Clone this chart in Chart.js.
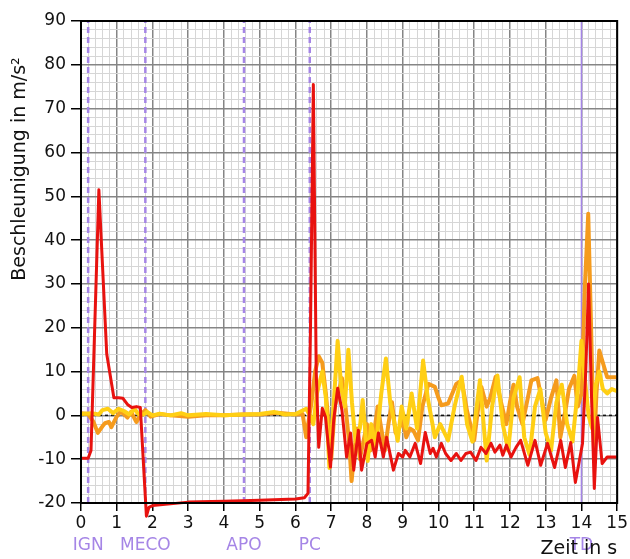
<!DOCTYPE html>
<html lang="de">
<head>
<meta charset="UTF-8">
<title>Beschleunigung</title>
<script src="https://cdn.jsdelivr.net/npm/chart.js"></script>
<style>
  html, body { margin: 0; padding: 0; background: #fff; overflow: hidden; }
  #wrap { width: 630px; height: 559px; }
</style>
</head>
<body>
<div id="wrap"><canvas id="chart" width="630" height="559"></canvas></div>
<script>
// time in s, acceleration in m/s²
const redPts = [
  [0,-9.8],[0.2,-9.8],[0.28,-8],[0.5,51.5],[0.72,14],[0.92,4],[1.05,4],[1.17,3.9],[1.3,2.5],
  [1.42,1.8],[1.55,2],[1.66,1.8],[1.74,-10],[1.83,-23],[1.9,-21],[2.0,-20.6],[2.5,-20.2],[3,-19.8],
  [4,-19.6],[5,-19.4],[6,-19.1],[6.25,-18.8],[6.35,-17.8],[6.42,20],[6.5,75.5],[6.58,10],[6.65,-7.3],
  [6.75,1.6],[6.84,-0.4],[6.98,-11.8],[7.07,-1],[7.18,6.2],[7.3,1.2],[7.43,-9.5],[7.54,-4],[7.63,-12.5],
  [7.76,-3.4],[7.85,-12.5],[8.0,-6.4],[8.13,-5.7],[8.23,-9.5],[8.32,-4],[8.46,-9.5],[8.55,-5],[8.74,-12.5],
  [8.88,-8.7],[9.0,-9.5],[9.07,-8],[9.2,-9.5],[9.35,-6.4],[9.5,-11],[9.63,-3.9],[9.77,-8.7],[9.85,-7.5],
  [9.94,-9.5],[10.08,-6.4],[10.2,-8.7],[10.35,-10.3],[10.5,-8.7],[10.63,-10.3],[10.77,-8.7],[10.9,-8.4],
  [11.05,-10.3],[11.19,-7.3],[11.33,-8.7],[11.47,-6.4],[11.58,-8.4],[11.72,-6.8],[11.8,-9.1],[11.9,-6.8],
  [12.03,-9.5],[12.17,-7.3],[12.3,-5.7],[12.5,-11.4],[12.7,-5.7],[12.86,-11.4],[13.05,-6.4],[13.25,-11.9],
  [13.42,-5.7],[13.55,-11.9],[13.7,-6.2],[13.83,-15.3],[14.03,-6.4],[14.12,10],[14.2,30],[14.28,5],
  [14.36,-16.7],[14.45,-0.5],[14.58,-11],[14.72,-9.5],[15,-9.5]
];
const orangePts = [
  [0,0.5],[0.2,0.3],[0.35,-1.5],[0.47,-4],[0.6,-2.5],[0.67,-1.8],[0.78,-1.5],[0.85,-2.7],[0.99,-0.4],
  [1.1,0.8],[1.2,0.3],[1.3,-0.5],[1.4,0.8],[1.55,-1.5],[1.68,0.3],[1.8,1.2],[1.95,-0.3],[2.2,0.3],
  [2.5,0],[3,-0.3],[3.5,0],[4,0],[4.5,0.2],[5,0.2],[5.5,0.6],[6,0.2],[6.2,0.3],[6.3,-5],[6.4,0.5],
  [6.45,3],[6.55,10],[6.65,13.5],[6.75,12],[6.85,5],[6.93,-2],[7.0,-10],[7.1,2],[7.2,5],[7.3,8.5],
  [7.4,2],[7.5,-6],[7.57,-15],[7.65,-8],[7.72,-3],[7.8,-10],[7.9,-6],[8.0,-2],[8.1,-8],[8.2,-4],
  [8.3,2],[8.4,-3],[8.5,-8],[8.6,-2],[8.7,3],[8.8,-4],[8.9,-3],[9.0,-1],[9.1,-5],[9.2,-3],[9.3,-3.5],
  [9.43,-5.7],[9.55,2],[9.72,7.2],[9.9,6.5],[10.0,4],[10.08,2.3],[10.27,2.7],[10.5,7.2],[10.65,8],
  [10.8,1],[11.0,-5.7],[11.1,1],[11.2,6.5],[11.35,2],[11.45,4],[11.6,8.8],[11.75,3],[11.9,-2],[12.0,3],
  [12.1,7],[12.2,2],[12.35,-2],[12.5,4],[12.6,8],[12.77,8.5],[12.9,3],[13.0,-1],[13.15,4],[13.3,8],
  [13.41,-5],[13.55,1],[13.65,6],[13.8,9],[13.9,2],[14.0,5],[14.1,30],[14.19,46],[14.27,20],[14.35,-8],
  [14.42,5],[14.5,14.8],[14.6,12],[14.72,8.7],[15,8.7]
];
const yellowPts = [
  [0,0.3],[0.3,0.5],[0.5,0.2],[0.6,1.2],[0.75,1.5],[0.9,0.5],[1.05,1.5],[1.2,1],[1.35,0.2],[1.5,1.5],
  [1.6,0.3],[1.75,0.2],[1.85,0.8],[2.0,0],[2.2,0.4],[2.5,0],[2.8,0.5],[3.0,0],[3.5,0.3],[4,0],[4.5,0.2],
  [5,0.3],[5.4,0.8],[5.7,0.2],[6.0,0.3],[6.3,1.5],[6.4,0],[6.5,-2],[6.6,5],[6.75,10],[6.85,4],
  [6.95,-12],[7.05,0],[7.18,17],[7.28,6.5],[7.38,2],[7.48,15],[7.58,3],[7.68,-6],[7.8,-3],[7.88,3.5],
  [8.02,-10.4],[8.12,-2],[8.25,-7],[8.4,5],[8.53,13],[8.65,3],[8.75,-1],[8.86,-5.8],[8.97,2],[9.1,-3],
  [9.25,5],[9.4,-3],[9.57,12.5],[9.7,4],[9.9,-5],[10.05,-2],[10.27,-5.7],[10.45,2],[10.65,8.8],[10.8,-2],
  [10.95,-6],[11.16,8],[11.35,-10.3],[11.5,2],[11.65,9.1],[11.8,-2],[11.95,-8],[12.1,4],[12.27,8.7],
  [12.4,-5],[12.55,-9],[12.7,2],[12.85,6],[13.0,-4],[13.15,-8],[13.3,3],[13.45,7],[13.6,-2],[13.75,-6],
  [13.9,6],[14.0,17],[14.1,8],[14.2,0],[14.3,-3],[14.4,7],[14.5,10],[14.6,6],[14.72,5],[14.85,6],[15,5.5]
];

const eventNames = ['IGN', 'MECO', 'APO', 'PC', 'TD'];
const eventTimes = [0.2, 1.8, 4.56, 6.4, 14.0];

const X_MIN = 0, X_MAX = 15, Y_MIN = -20, Y_MAX = 90;
const FONT = 'DejaVu Sans';
const PURPLE = '#a585e6';

const toXY = pts => pts.map(p => ({ x: p[0], y: p[1] }));
const isMajor = (v, step) => Math.abs(v / step - Math.round(v / step)) < 1e-6;

const datasets = [
  { data: toXY(redPts), borderColor: '#e8120f', borderWidth: 3, clip: false },
  { data: toXY(yellowPts), borderColor: '#ffcf14', borderWidth: 4 },
  { data: toXY(orangePts), borderColor: '#f59b1d', borderWidth: 4 },
  { data: [{ x: X_MIN, y: 0 }, { x: X_MAX, y: 0 }], borderColor: '#111', borderWidth: 1.5, borderDash: [3, 3] },
];
eventTimes.forEach((t, i) => {
  const td = eventNames[i] === 'TD';
  datasets.push({
    data: [{ x: t, y: Y_MIN }, { x: t, y: Y_MAX }],
    borderColor: PURPLE,
    borderWidth: td ? 1.5 : 2.5,
    borderDash: td ? [] : [6, 4],
  });
});
datasets.forEach(d => { d.pointRadius = 0; d.tension = 0; d.fill = false; d.borderJoinStyle = 'round'; });

// purple event names under the axis, y label, frame
const extras = {
  id: 'extras',
  beforeDraw(chart) {
    const c = chart.ctx, xs = chart.scales.x;
    c.save();
    c.fillStyle = PURPLE;
    c.font = '17px ' + FONT;
    c.textAlign = 'center';
    c.textBaseline = 'middle';
    eventTimes.forEach((t, i) => c.fillText(eventNames[i], xs.getPixelForValue(t), 546));
    c.restore();
  },
  afterDraw(chart) {
    const c = chart.ctx, a = chart.chartArea;
    c.save();
    c.strokeStyle = '#000';
    c.lineWidth = 2;
    c.strokeRect(a.left, a.top, a.right - a.left, a.bottom - a.top);
    c.translate(20, 169);
    c.rotate(-Math.PI / 2);
    c.fillStyle = '#111';
    c.font = '19px ' + FONT;
    c.textAlign = 'center';
    c.textBaseline = 'middle';
    c.fillText('Beschleunigung in m/s²', 0, 0);
    c.restore();
  }
};

new Chart(document.getElementById('chart'), {
  type: 'line',
  data: { datasets },
  options: {
    responsive: false,
    animation: false,
    layout: { padding: { top: 21, right: 10, left: 0, bottom: 0 } },
    plugins: { legend: { display: false }, tooltip: { enabled: false } },
    scales: {
      x: {
        type: 'linear', min: X_MIN, max: X_MAX,
        afterFit: s => { s.height = 56; },
        border: { color: '#000', width: 2 },
        grid: {
          color: c => isMajor(c.tick.value, 1) ? '#858585' : '#d6d6d6',
          lineWidth: c => isMajor(c.tick.value, 1) ? 1.5 : 1,
          tickColor: c => isMajor(c.tick.value, 1) ? '#000' : 'rgba(0,0,0,0)',
          tickLength: 8, tickWidth: 1.5,
        },
        ticks: {
          stepSize: 0.2, autoSkip: false, maxRotation: 0, padding: 2,
          color: '#111', font: { family: FONT, size: 17 },
          callback: v => isMajor(v, 1) ? String(Math.round(v)) : '',
        },
        title: {
          display: true, text: 'Zeit in s', align: 'end', color: '#111',
          font: { family: FONT, size: 19 }, padding: { top: 0, bottom: -1 },
        },
      },
      y: {
        type: 'linear', min: Y_MIN, max: Y_MAX,
        afterFit: s => { s.width = 81; },
        border: { color: '#000', width: 2 },
        grid: {
          color: c => isMajor(c.tick.value, 10) ? '#858585' : '#d6d6d6',
          lineWidth: c => isMajor(c.tick.value, 10) ? 1.5 : 1,
          tickColor: c => isMajor(c.tick.value, 10) ? '#000' : 'rgba(0,0,0,0)',
          tickLength: 10, tickWidth: 1.5,
        },
        ticks: {
          stepSize: 2, autoSkip: false, padding: 5,
          color: '#111', font: { family: FONT, size: 17 },
          callback: v => isMajor(v, 10) ? String(Math.round(v)) : '',
        },
      },
    },
  },
  plugins: [extras],
});
</script>
</body>
</html>
